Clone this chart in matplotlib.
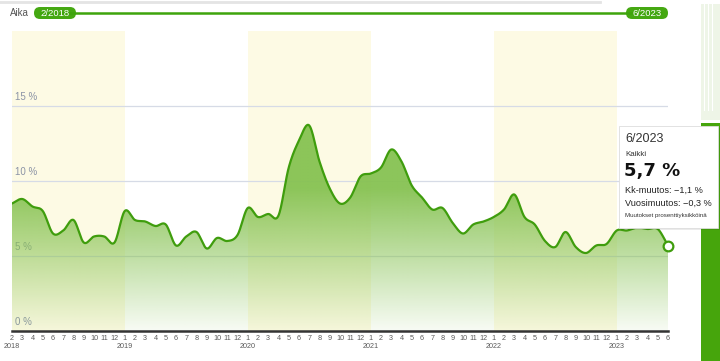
import numpy as np
import matplotlib
matplotlib.use("Agg")
import matplotlib.pyplot as plt
from matplotlib.patches import PathPatch, FancyBboxPatch, Rectangle
from matplotlib.path import Path
from matplotlib.transforms import blended_transform_factory

plt.rcParams['font.family'] = ['Liberation Sans', 'DejaVu Sans']

# ---------------- data ----------------
start_label = "2/2018"
end_label = "6/2023"
values = [8.5, 8.8, 8.3, 8.0, 6.5, 6.7, 7.4, 5.9, 6.3, 6.3, 5.9,          # 2-12/2018
          8.0, 7.4, 7.3, 7.0, 7.1, 5.7, 6.3, 6.6, 5.5, 6.2, 6.0, 6.4,     # 2019
          8.2, 7.6, 7.8, 7.7, 10.9, 12.7, 13.7, 11.3, 9.5, 8.5, 8.9, 10.3,  # 2020
          10.5, 10.9, 12.1, 11.3, 9.7, 8.9, 8.1, 8.2, 7.2, 6.5, 7.1, 7.3,   # 2021
          7.6, 8.1, 9.1, 7.6, 7.1, 6.0, 5.6, 6.6, 5.6, 5.2, 5.7, 5.8,       # 2022
          6.7, 6.7, 6.9, 6.8, 6.8, 5.7]                                   # 1-6/2023
months = [2, 3, 4, 5, 6, 7, 8, 9, 10, 11, 12] + list(range(1, 13)) * 4 + [1, 2, 3, 4, 5, 6]
years = [2018] * 11 + [2019] * 12 + [2020] * 12 + [2021] * 12 + [2022] * 12 + [2023] * 6
band_years = [2018, 2020, 2022]
y_ticks = [0, 5, 10, 15]
tip_title = "6/2023"
tip_series = "Kaikki"
tip_value = "5,7 %"
tip_mom = "Kk-muutos: \u22121,1 %"
tip_yoy = "Vuosimuutos: \u22120,3 %"
tip_note = "Muutokset prosenttiyksikköinä"

W, H = 720, 361
GREEN = '#3f9d0d'

fig = plt.figure(figsize=(W / 100, H / 100), dpi=100)
fig.patch.set_facecolor('white')

ax = fig.add_axes([12 / W, (H - 331) / H, 656 / W, 300 / H])
n = len(values)
x = np.arange(n)
ax.set_xlim(0, n - 1)
ax.set_ylim(0, 20)
ax.patch.set_alpha(0)

# year bands
for yr in band_years:
    idx = [i for i in range(n) if years[i] == yr]
    s = idx[0] if months[idx[0]] == 1 else 0
    e = min(n - 1, idx[-1] + 1)
    ax.axvspan(s, e, color='#fdfae4', zorder=0, lw=0)

# gridlines
for v in y_ticks[1:]:
    ax.axhline(v, color='#d6dbe6', lw=0.9, zorder=1)
for v in y_ticks:
    ax.text(0.3, v + 0.25, f"{v} %", fontsize=7, color='#8b93a6', va='bottom', ha='left', zorder=1)

# smooth curve (cubic Hermite / Catmull-Rom)
vals = np.array(values, dtype=float)
tang = np.zeros(n)
tang[1:-1] = (vals[2:] - vals[:-2]) / 2
tang[0] = vals[1] - vals[0]
tang[-1] = vals[-1] - vals[-2]
xs, ys = [], []
for i in range(n - 1):
    t = np.linspace(0, 1, 25, endpoint=(i == n - 2))
    h00 = 2 * t**3 - 3 * t**2 + 1
    h10 = t**3 - 2 * t**2 + t
    h01 = -2 * t**3 + 3 * t**2
    h11 = t**3 - t**2
    xs.append(i + t)
    ys.append(h00 * vals[i] + h10 * tang[i] + h01 * vals[i + 1] + h11 * tang[i + 1])
xs = np.concatenate(xs)
ys = np.concatenate(ys)

# gradient fill
verts = np.column_stack([np.concatenate([xs, [n - 1, 0]]), np.concatenate([ys, [0, 0]])])
path = Path(verts)
patch = PathPatch(path, transform=ax.transData, facecolor='none', edgecolor='none')
ax.add_patch(patch)
yy = np.linspace(0, 20, 400)
alpha = np.clip(0.06 + 0.89 * yy / 9.5, 0, 0.95)
img = np.zeros((400, 2, 4))
img[..., 0] = 134 / 255
img[..., 1] = 194 / 255
img[..., 2] = 82 / 255
img[..., 3] = alpha[:, None]
im = ax.imshow(img, extent=[0, n - 1, 0, 20], origin='lower', aspect='auto', zorder=2,
               interpolation='bilinear')
im.set_clip_path(patch)

ax.plot(xs, ys, color=GREEN, lw=1.6, zorder=4, solid_capstyle='round')
ax.plot([n - 1], [vals[-1]], 'o', ms=7, mfc='white', mec=GREEN, mew=1.6, zorder=6, clip_on=False)

for s in ['top', 'left', 'right']:
    ax.spines[s].set_visible(False)
ax.spines['bottom'].set_color('#333333')
ax.spines['bottom'].set_linewidth(1.8)
ax.spines['bottom'].set_zorder(5)
ax.set_yticks([])
ax.set_xticks(x)
ax.set_xticklabels([str(m) for m in months], fontsize=5.2, color='#5a5a5a')
ax.tick_params(axis='x', length=0, pad=3)
trans = blended_transform_factory(ax.transData, fig.transFigure)
for i in range(n):
    if i == 0 or months[i] == 1:
        ax.text(i, 1 - 346.5 / H, str(years[i]), transform=trans, fontsize=5.2, color='#5a5a5a',
                ha='center', va='center', clip_on=False)

# ---------------- overlay (pixel coordinates) ----------------
ov = fig.add_axes([0, 0, 1, 1], zorder=10)
ov.set_xlim(0, W)
ov.set_ylim(H, 0)
ov.axis('off')
ov.patch.set_alpha(0)

ov.plot([0, 600], [1.5, 1.5], color='#e4e4e4', lw=2)
ov.text(10, 13.5, "Aika", fontsize=7, color='#555555', va='center', ha='left')
ov.plot([40, 662], [13, 13], color='#3ea40c', lw=1.8, solid_capstyle='butt')
for (x0, x1, lab) in [(34, 76, start_label), (626, 668, end_label)]:
    ov.add_patch(FancyBboxPatch((x0, 7), x1 - x0, 12, boxstyle="round,pad=0,rounding_size=6",
                                facecolor='#45a812', edgecolor='none'))
    ov.text((x0 + x1) / 2, 13.5, lab, fontsize=6.8, color='white', ha='center', va='center')

# right page decoration
ov.add_patch(Rectangle((701, 4), 19, 116, facecolor='#eef5e7', edgecolor='none'))
for xx in [704, 708, 712]:
    ov.plot([xx, xx], [4, 110], color='white', lw=0.8)
ov.add_patch(Rectangle((701, 123), 19, 238, facecolor='#46a50c', edgecolor='none'))

# tooltip
ov.add_patch(Rectangle((621, 128), 99, 102, facecolor='#000000', alpha=0.08, edgecolor='none'))
ov.add_patch(Rectangle((619, 126), 99, 102, facecolor='white', edgecolor='#dddddd', lw=0.6))
ov.text(625, 139, tip_title, fontsize=9, color='#333333', va='center', ha='left')
ov.text(625, 155, tip_series, fontsize=5.7, color='#333333', va='center', ha='left')
ov.text(624, 171, tip_value, fontsize=13, color='#111111', va='center', ha='left',
        fontweight='bold', family=['DejaVu Sans'])
ov.text(625, 190, tip_mom, fontsize=6.6, color='#222222', va='center', ha='left')
ov.text(625, 203, tip_yoy, fontsize=6.6, color='#222222', va='center', ha='left')
ov.text(625, 215.5, tip_note, fontsize=4.4, color='#333333', va='center', ha='left')

fig.savefig('out.png', dpi=100)
